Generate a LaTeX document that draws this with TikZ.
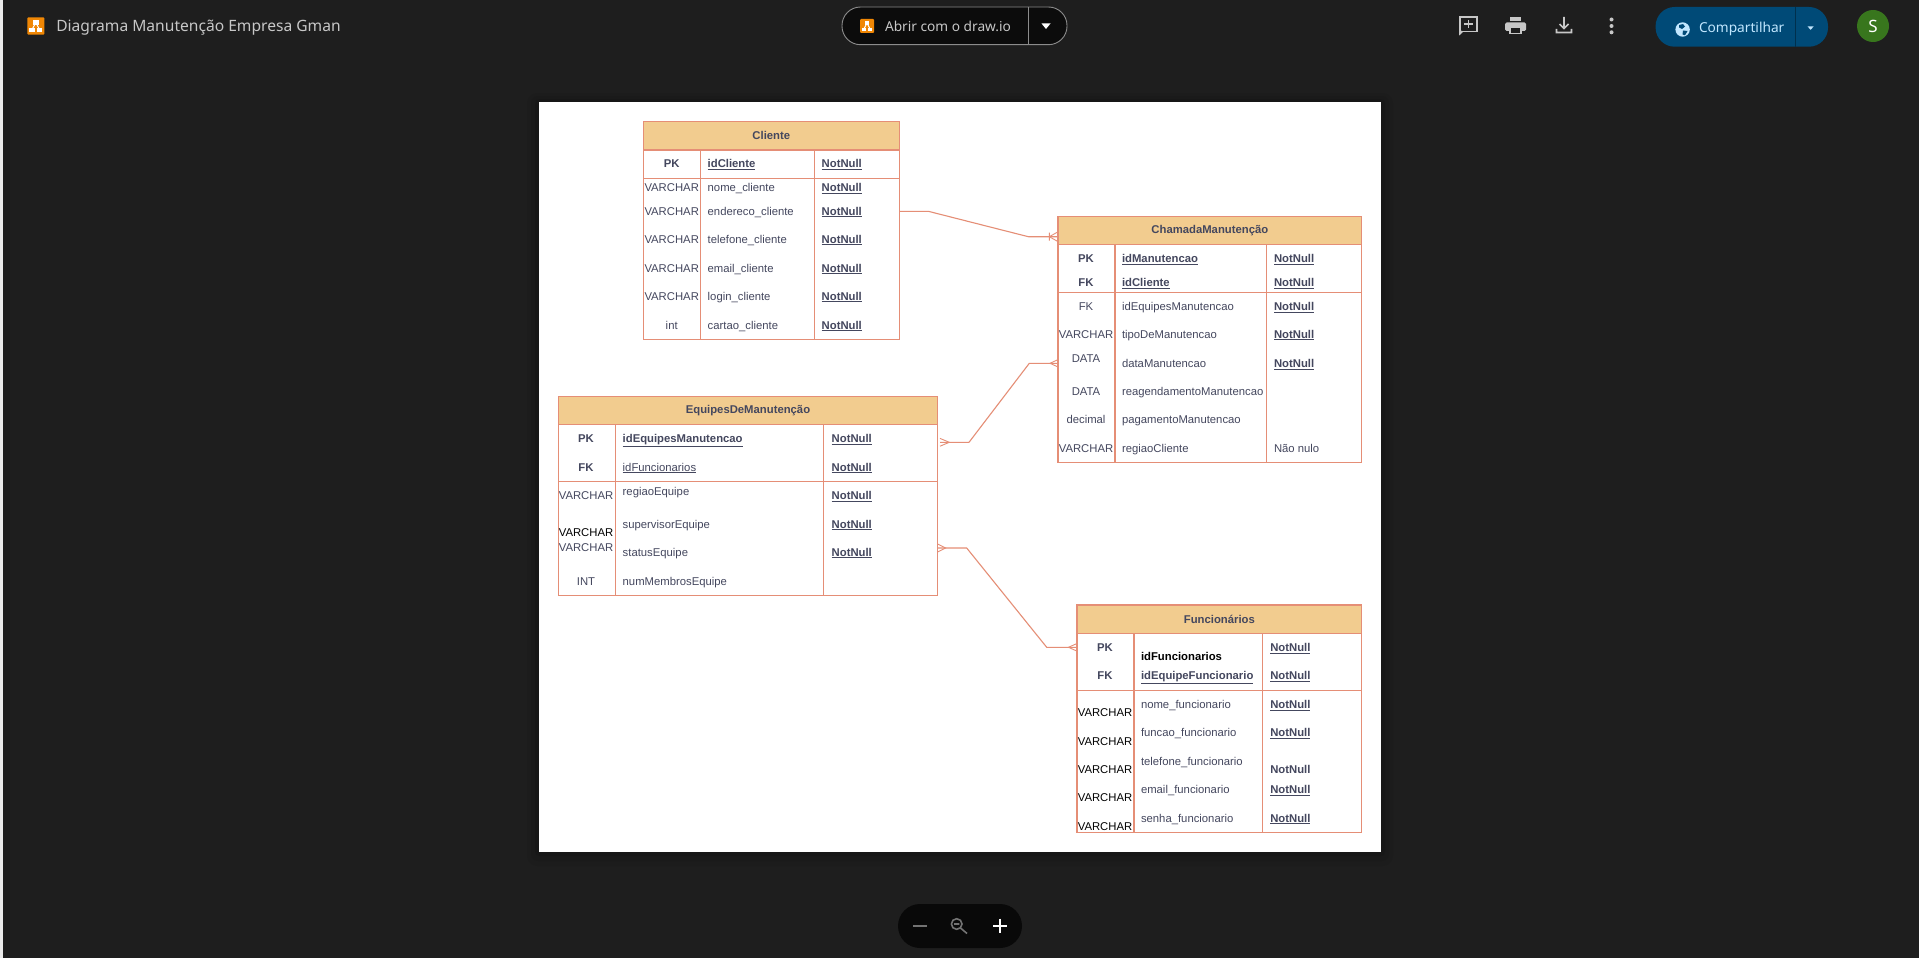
\documentclass[tikz,border=0pt]{standalone}
\usepackage{fontspec}
\setmainfont{Liberation Sans}
\newfontfamily\uifont{Noto Sans}
\usetikzlibrary{calc}
\definecolor{bgdark}{HTML}{1E1E1E}
\definecolor{erline}{HTML}{E58E76}
\definecolor{erfill}{HTML}{F2CC8F}
\definecolor{ertext}{HTML}{44475E}
\definecolor{titlegray}{HTML}{C7C7C7}
\definecolor{iconorange}{HTML}{F08705}
\definecolor{sharebl}{HTML}{004A77}
\definecolor{sharetx}{HTML}{C2E7FF}
\definecolor{avatargreen}{HTML}{38761D}
\newcommand{\nn}{\underline{\textbf{NotNull}}}
\newcommand{\ul}[1]{\underline{\textbf{#1}}}
\tikzset{
  x=1pt,y=-1pt,
  tablebox/.style={draw=erline,line width=1.1pt,fill=white,anchor=north west,inner sep=0pt,outer sep=0pt},
  hdrbox/.style={draw=erline,line width=1.1pt,fill=erfill,anchor=north west,inner sep=0pt,outer sep=0pt,text=ertext,font=\fontsize{11.3}{13}\selectfont\bfseries},
  grid/.style={draw=erline,line width=1.1pt},
  ctext/.style={inner sep=0pt,outer sep=0pt,text=ertext,font=\fontsize{11.3}{13}\selectfont,text height=8pt,text depth=0pt},
  lcell/.style={ctext,anchor=west},
  mcell/.style={ctext,anchor=center},
  blk/.style={text=black},
  conn/.style={draw=erline,line width=1.1pt,line join=round},
  crow/.style={draw=erline,line width=.9pt},
  uitext/.style={inner sep=0pt,outer sep=0pt,font=\uifont},
  tool/.style={draw=titlegray,line width=1.6pt},
}
\newcommand{\drawioicon}[4]{% x0 y0 x1 y1
  \fill[iconorange,rounded corners=1pt] (#1,#2) rectangle (#3,#4);
  \draw[white,line width=1pt] ({(#1+#3)/2},{#2+.3*(#4-#2)}) -- ({#1+.27*(#3-#1)},{#2+.72*(#4-#2)})
    ({(#1+#3)/2},{#2+.3*(#4-#2)}) -- ({#1+.73*(#3-#1)},{#2+.72*(#4-#2)});
  \fill[white] ({(#1+#3)/2-.16*(#3-#1)},{#2+.17*(#4-#2)}) rectangle ({(#1+#3)/2+.16*(#3-#1)},{#2+.42*(#4-#2)});
  \fill[white] ({#1+.27*(#3-#1)-.16*(#3-#1)},{#2+.62*(#4-#2)}) rectangle ({#1+.27*(#3-#1)+.16*(#3-#1)},{#2+.87*(#4-#2)});
  \fill[white] ({#1+.73*(#3-#1)-.16*(#3-#1)},{#2+.62*(#4-#2)}) rectangle ({#1+.73*(#3-#1)+.16*(#3-#1)},{#2+.87*(#4-#2)});
}
\begin{document}
\begin{tikzpicture}
\useasboundingbox (0,0) rectangle (1919,958);
\fill[bgdark] (0,0) rectangle (1919,958);
\fill[white!92!black] (0,0) rectangle (2.5,958);
% page with its soft shadow
\fill[black,opacity=.05,rounded corners=10pt] (527,93) rectangle (1393,866);
\fill[black,opacity=.06,rounded corners=7pt] (531,96) rectangle (1389,861);
\fill[black,opacity=.08,rounded corners=4pt] (535,99) rectangle (1385,856);
\fill[white] (539,102) rectangle (1381,852);

% ---- top bar
\drawioicon{27.3}{17.3}{44.3}{34.7}
\node[uitext,anchor=west,text=titlegray,font=\uifont\fontsize{15.6}{18}\selectfont] (doctitle) at (56.3,27.5) {Diagrama Manutenção Empresa Gman};
\draw[draw=white!55!black,fill=black!60!bgdark,line width=.9pt,rounded corners=18.5pt] (842,7) rectangle (1067,44.7);
\draw[white!55!black,line width=.9pt] (1028.6,7) -- (1028.6,44.7);
\drawioicon{860}{19}{874}{33}
\node[uitext,anchor=west,text=titlegray,font=\uifont\fontsize{13.7}{16}\selectfont] (openwith) at (885,26.5) {Abrir com o draw.io};
\fill[white] (1041.5,23.5) -- (1050.5,23.5) -- (1046,29) -- cycle;
% comment icon
\draw[tool,line join=miter] (1460,17) rectangle (1477,31.5);
\fill[titlegray] (1459.2,30) -- (1463.5,31.5) -- (1459.2,35.5) -- cycle;
\draw[tool] (1468.5,20) -- (1468.5,28.5) (1464.2,24.2) -- (1472.8,24.2);
% printer icon
\fill[titlegray,rounded corners=1.5pt] (1505,22.5) rectangle (1526,31);
\fill[titlegray] (1510,17) rectangle (1521,21.3);
\draw[titlegray,fill=bgdark,line width=1.6pt] (1510,27.5) rectangle (1521,33.7);
% download icon
\draw[tool] (1564,17) -- (1564,28) (1559.5,24) -- (1564,28.5) -- (1568.5,24) (1556.5,29) -- (1556.5,32.5) -- (1571.5,32.5) -- (1571.5,29);
% dots
\fill[titlegray] (1611.5,19.5) circle (2) (1611.5,26) circle (2) (1611.5,32.3) circle (2);
% share button
\fill[sharebl,rounded corners=19pt] (1655.6,7) rectangle (1828,46.7);
\draw[black!35!sharebl,line width=.9pt] (1795,7) -- (1795,46.7);
\fill[sharetx] (1682.6,29.5) circle (7.2);
\fill[sharebl] (1679,25) -- (1683,24.1) -- (1685,26.5) -- (1682,29) -- (1679,27.5) -- cycle;
\fill[sharebl] (1683,30.5) -- (1687.5,31) -- (1685,35.3) -- (1682.5,34.5) -- cycle;
\node[uitext,anchor=west,text=sharetx,font=\uifont\fontsize{13.7}{16}\selectfont] (share) at (1699,29) {Compartilhar};
\fill[sharetx] (1807.6,26.5) -- (1813.6,26.5) -- (1810.6,29.8) -- cycle;
% avatar
\fill[avatargreen] (1873,26) circle (16);
\node[uitext,text=white,font=\uifont\fontsize{17}{20}\selectfont] (avatar) at (1873,26) {S};

% ---- zoom control
\fill[black!70!bgdark,rounded corners=22pt] (898,904) rectangle (1022,948);
\draw[white!45!black,line width=1.6pt] (913,925.7) -- (927,925.7);
\draw[white!45!black,line width=1.6pt] (956.7,924) circle (5.3) (960.5,928) -- (967,933.5) (954,924) -- (959.4,924);
\draw[white,line width=1.8pt] (993,925.7) -- (1007,925.7) (1000,918.7) -- (1000,932.7);

% ---- Cliente
\node[tablebox,minimum width=256pt,minimum height=217.6pt] (cliente) at (643.3,121.7) {};
\node[hdrbox,minimum width=256pt,minimum height=28.3pt] (clienteHdr) at (643.3,121.7) {Cliente};
\draw[grid] (cliente.north west |- 0,178.7) -- (cliente.north east |- 0,178.7)
  (700.3,150) -- (700.3,339.3) (814.3,150) -- (814.3,339.3);
\foreach \y/\t [count=\i] in {163.3/\textbf{PK},187.3/VARCHAR,211/VARCHAR,239/VARCHAR,268/VARCHAR,296/VARCHAR,325/int}
  \node[mcell] (cliA\i) at (671.7,\y) {\t};
\foreach \y/\t [count=\i] in {163.3/\ul{idCliente},187.3/nome\_cliente,211/endereco\_cliente,239/telefone\_cliente,268/email\_cliente,296/login\_cliente,325/cartao\_cliente}
  \node[lcell] (cliB\i) at (707.7,\y) {\t};
\foreach \y [count=\i] in {163.3,187.3,211,239,268,296,325}
  \node[lcell] (cliC\i) at (821.7,\y) {\nn};

% ---- ChamadaManutencao
\node[tablebox,minimum width=303.7pt,minimum height=246pt] (chamada) at (1058,216.7) {};
\node[hdrbox,minimum width=303.7pt,minimum height=28pt] (chamadaHdr) at (1058,216.7) {ChamadaManutenção};
\draw[grid] (chamada.north west |- 0,292.3) -- (chamada.north east |- 0,292.3)
  (1115,244.7) -- (1115,462.7) (1266.7,244.7) -- (1266.7,462.7);
\foreach \y/\t [count=\i] in {258.3/\textbf{PK},282.3/\textbf{FK},306.3/FK,334/VARCHAR,358/DATA,391.3/DATA,419.3/decimal,448/VARCHAR}
  \node[mcell] (chaA\i) at (1086,\y) {\t};
\foreach \y/\t [count=\i] in {258.3/\ul{idManutencao},282.3/\ul{idCliente},306.3/idEquipesManutencao,334/tipoDeManutencao,363.3/dataManutencao,391.3/reagendamentoManutencao,419.3/pagamentoManutencao,448/regiaoCliente}
  \node[lcell] (chaB\i) at (1122,\y) {\t};
\foreach \y/\t [count=\i] in {258.3/\nn,282.3/\nn,306.3/\nn,334/\nn,363.3/\nn,448/Não nulo}
  \node[lcell] (chaC\i) at (1274,\y) {\t};

% ---- EquipesDeManutencao
\node[tablebox,minimum width=379.4pt,minimum height=198.6pt] (equipes) at (558.3,396.7) {};
\node[hdrbox,minimum width=379.4pt,minimum height=28pt] (equipesHdr) at (558.3,396.7) {EquipesDeManutenção};
\draw[grid] (equipes.north west |- 0,481.7) -- (equipes.north east |- 0,481.7)
  (615.3,424.7) -- (615.3,595.3) (823.7,424.7) -- (823.7,595.3);
\foreach \y/\t [count=\i] in {438.3/\textbf{PK},467/\textbf{FK},495/VARCHAR,547/VARCHAR,581/INT}
  \node[mcell] (equA\i) at (586,\y) {\t};
\node[mcell,blk] (equA6) at (586,532) {VARCHAR};
\foreach \y/\t [count=\i] in {438.3/\ul{idEquipesManutencao},467/\underline{idFuncionarios},491.3/regiaoEquipe,524/supervisorEquipe,552/statusEquipe,581/numMembrosEquipe}
  \node[lcell] (equB\i) at (622.7,\y) {\t};
\foreach \y [count=\i] in {438.3,467,495.3,524,552}
  \node[lcell] (equC\i) at (831.7,\y) {\nn};

% ---- Funcionarios
\node[tablebox,minimum width=284.7pt,minimum height=227.3pt] (func) at (1077,605) {};
\node[hdrbox,minimum width=284.7pt,minimum height=28.3pt] (funcHdr) at (1077,605) {Funcionários};
\draw[grid] (func.north west |- 0,690.3) -- (func.north east |- 0,690.3)
  (1134,633.3) -- (1134,832.3) (1262.7,633.3) -- (1262.7,832.3);
\foreach \y/\t [count=\i] in {647/\textbf{PK},675/\textbf{FK}}
  \node[mcell] (funA\i) at (1105,\y) {\t};
\foreach \y [count=\i] in {712,741,769,797.7,826}
  \node[mcell,blk] (funV\i) at (1105,\y) {VARCHAR};
\node[lcell,blk] (funB0) at (1141,656) {\textbf{idFuncionarios}};
\foreach \y/\t [count=\i] in {675.3/\ul{idEquipeFuncionario},704.3/nome\_funcionario,732.3/funcao\_funcionario,761/telefone\_funcionario,789.3/email\_funcionario,818/senha\_funcionario}
  \node[lcell] (funB\i) at (1141,\y) {\t};
\foreach \y/\t [count=\i] in {647.3/\nn,675.3/\nn,704.3/\nn,732.3/\nn,769/\textbf{NotNull},789.3/\nn,818/\nn}
  \node[lcell] (funC\i) at (1270.3,\y) {\t};

% ---- connectors
\coordinate (k1a) at (928.3,211.3);
\coordinate (k1b) at (1028.3,236.7);
\coordinate (p1b) at (chamada.west |- k1b);
\draw[conn] (cliente.east |- k1a) -- (k1a) -- (k1b) -- (p1b);
\coordinate (c1) at (1049.3,236.7);
\draw[crow] ($(c1)+(0,-4)$) -- ($(c1)+(0,4)$) ($(c1)+(8,-4.5)$) -- (c1) -- ($(c1)+(8,4.5)$);

\coordinate (p2a) at (940,442.3);
\coordinate (k2a) at (969,442.3);
\coordinate (k2b) at (1029.3,363.3);
\coordinate (p2b) at (chamada.west |- k2b);
\draw[conn] (p2a) -- (k2a) -- (k2b) -- (p2b);
\draw[crow] (940,438.4) -- (949.3,442.3) -- (940,446.2);
\draw[crow] (1058,359.6) -- (1050,363.3) -- (1058,367);

\coordinate (p3a) at (937.7,548);
\coordinate (k3a) at (966.7,548);
\coordinate (k3b) at (1046.7,647.3);
\coordinate (p3b) at (func.west |- k3b);
\draw[conn] (p3a) -- (k3a) -- (k3b) -- (p3b);
\draw[crow] (937.7,544) -- (945.7,548) -- (937.7,552);
\draw[crow] (1076.7,643.6) -- (1068.5,647.3) -- (1076.7,651);
\end{tikzpicture}
\end{document}
